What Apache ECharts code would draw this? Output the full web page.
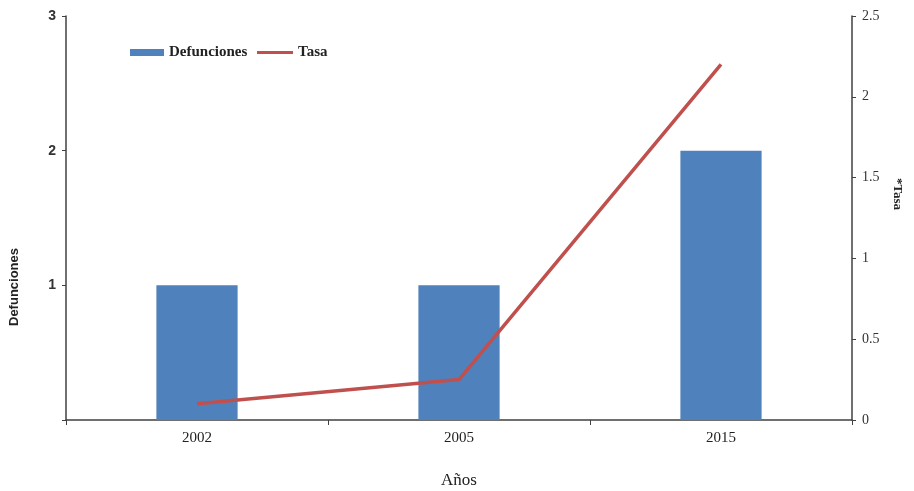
<!DOCTYPE html>
<html>
<head>
<meta charset="utf-8">
<script src="https://cdn.jsdelivr.net/npm/echarts@6/dist/echarts.min.js"></script>
<style>
  html, body { margin: 0; padding: 0; background: #fff; }
  #chart { width: 914px; height: 491px; }
</style>
</head>
<body>
<div id="chart"></div>
<script>
// Deaths per year (bars, left axis) and rate (line, right axis)
const years = ['2002', '2005', '2015'];
const defunciones = [1, 1, 2];
const tasa = [0.1, 0.25, 2.2];

const axisColor = '#404040';
const serif = '"Liberation Serif", "DejaVu Serif", serif';
const sans = '"Liberation Sans", "DejaVu Sans", sans-serif';
const legendText = { fontFamily: serif, fontWeight: 'bold', fontSize: 15, color: '#222' };

const chart = echarts.init(document.getElementById('chart'));
chart.setOption({
  animation: false,
  grid: { left: 66, right: 62, top: 16, bottom: 71, containLabel: false, outerBoundsMode: 'none' },
  legend: [
    {
      left: 125, top: 40,
      itemWidth: 34, itemHeight: 7,
      textStyle: legendText,
      data: [{ name: 'Defunciones', icon: 'rect' }]
    },
    {
      left: 252, top: 40,
      itemWidth: 36, itemHeight: 3,
      textStyle: legendText,
      data: [{ name: 'Tasa', icon: 'rect' }]
    }
  ],
  xAxis: {
    type: 'category',
    data: years,
    name: 'Años',
    nameLocation: 'middle',
    nameGap: 52,
    nameTextStyle: { fontFamily: serif, fontSize: 17, color: '#222' },
    axisLine: { lineStyle: { color: axisColor, width: 1.5 } },
    axisTick: { show: true, inside: false, length: 5, lineStyle: { color: axisColor } },
    axisLabel: { fontFamily: serif, fontSize: 15, color: '#222', margin: 11 }
  },
  yAxis: [
    {
      type: 'value',
      min: 0, max: 3, interval: 1,
      name: 'Defunciones',
      nameLocation: 'middle',
      nameGap: 45,
      nameTextStyle: { fontFamily: sans, fontWeight: 'bold', fontSize: 13, color: '#222', padding: [0, 138, 0, 0] },
      axisLine: { show: true, lineStyle: { color: axisColor, width: 1.5 } },
      axisTick: { show: true, length: 4, lineStyle: { color: axisColor } },
      splitLine: { show: false },
      axisLabel: {
        fontFamily: sans, fontWeight: 'bold', fontSize: 14, color: '#333', margin: 10,
        formatter: v => (v === 0 ? '' : String(v))
      }
    },
    {
      type: 'value',
      min: 0, max: 2.5, interval: 0.5,
      name: '*Tasa',
      nameLocation: 'middle',
      nameGap: 37,
      nameRotate: -90,
      nameTextStyle: { fontFamily: serif, fontWeight: 'bold', fontSize: 13, color: '#222', padding: [0, 48, 0, 0] },
      axisLine: { show: true, lineStyle: { color: axisColor, width: 1.5 } },
      axisTick: { show: true, length: 4, lineStyle: { color: axisColor } },
      splitLine: { show: false },
      axisLabel: { fontFamily: serif, fontSize: 14, color: '#333', margin: 10 }
    }
  ],
  series: [
    {
      name: 'Defunciones',
      type: 'bar',
      yAxisIndex: 0,
      data: defunciones,
      barWidth: '31%',
      itemStyle: { color: '#4f81bd' }
    },
    {
      name: 'Tasa',
      type: 'line',
      yAxisIndex: 1,
      data: tasa,
      symbol: 'none',
      lineStyle: { color: '#c0504d', width: 3.5 },
      itemStyle: { color: '#c0504d' }
    }
  ]
});
</script>
</body>
</html>
